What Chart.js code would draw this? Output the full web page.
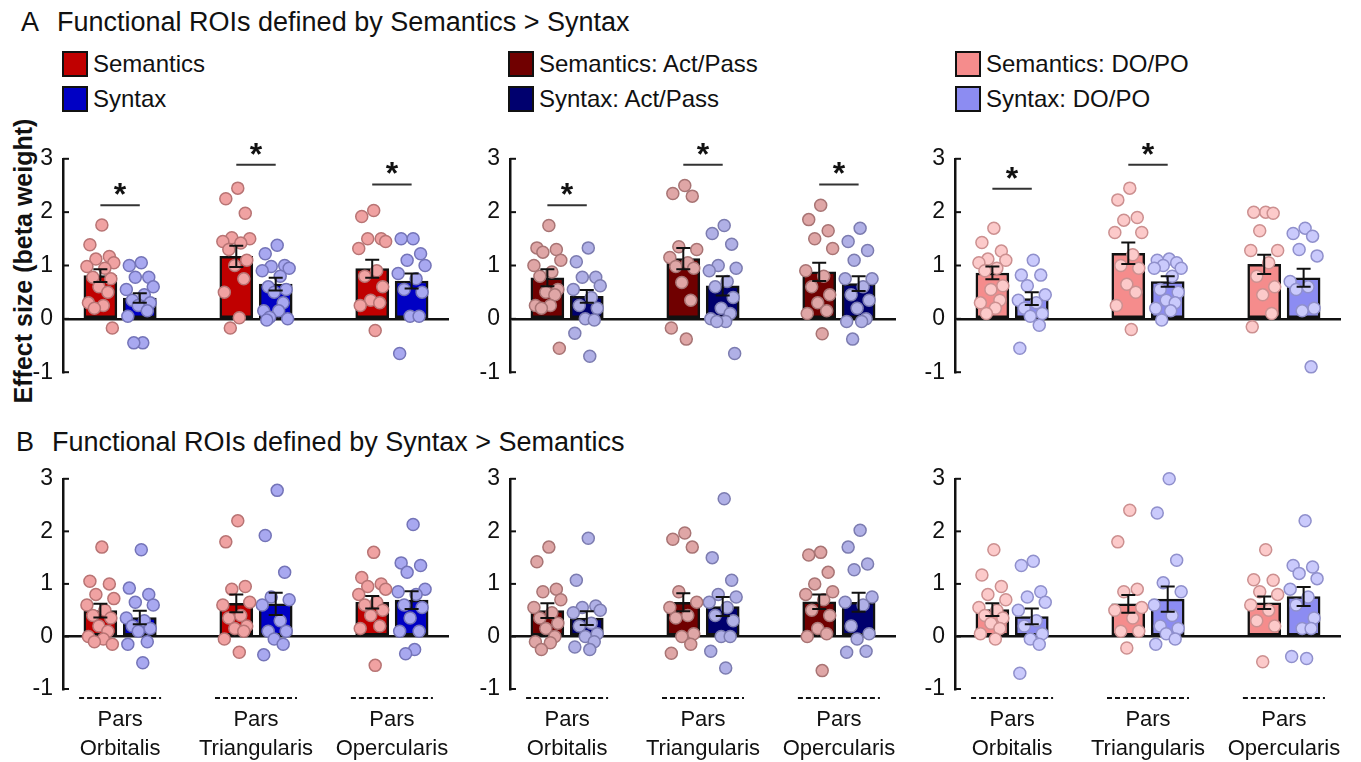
<!DOCTYPE html>
<html>
<head>
<meta charset="utf-8">
<script src="https://cdn.jsdelivr.net/npm/chart.js@4.4.1/dist/chart.umd.min.js"></script>
<style>
  body { margin: 0; background: #fff; font-family: "Liberation Sans", Arial, sans-serif; }
  #page { position: relative; width: 1361px; height: 762px; overflow: hidden; background: #fff; }
  .abs { position: absolute; white-space: nowrap; color: #111; }
  .title { font-size: 27px; line-height: 27px; }
  .legend { font-size: 24px; line-height: 26px; display: flex; align-items: center; }
  .swatch { width: 22px; height: 22px; border: 2px solid #111; margin-right: 5px; }
  .ylabel { font-size: 25px; font-weight: bold; width: 320px; height: 28px; line-height: 28px;
            text-align: center; transform: rotate(-90deg); }
  canvas { position: absolute; }
</style>
</head>
<body>
<div id="page">
  <div class="abs title" style="left:21px; top:9px;">A</div>
  <div class="abs title" style="left:57px; top:9px;">Functional ROIs defined by Semantics &gt; Syntax</div>
  <div class="abs title" style="left:16px; top:429px;">B</div>
  <div class="abs title" style="left:52px; top:429px;">Functional ROIs defined by Syntax &gt; Semantics</div>

  <div class="abs legend" style="left:62px; top:51px;"><div class="swatch" style="background:#c00000"></div>Semantics</div>
  <div class="abs legend" style="left:62px; top:86px;"><div class="swatch" style="background:#0000c4"></div>Syntax</div>
  <div class="abs legend" style="left:508px; top:51px;"><div class="swatch" style="background:#700000"></div>Semantics: Act/Pass</div>
  <div class="abs legend" style="left:508px; top:86px;"><div class="swatch" style="background:#00006e"></div>Syntax: Act/Pass</div>
  <div class="abs legend" style="left:955px; top:51px;"><div class="swatch" style="background:#f58c8c"></div>Semantics: DO/PO</div>
  <div class="abs legend" style="left:955px; top:86px;"><div class="swatch" style="background:#8c8cf2"></div>Syntax: DO/PO</div>

  <div class="abs ylabel" style="left:-137px; top:247px;">Effect size (beta weight)</div>

  <canvas id="a1" width="443" height="261" style="left:18px; top:135px;"></canvas>
  <canvas id="a2" width="443" height="261" style="left:465px; top:135px;"></canvas>
  <canvas id="a3" width="443" height="261" style="left:910px; top:135px;"></canvas>
  <canvas id="b1" width="443" height="307" style="left:18px; top:455px;"></canvas>
  <canvas id="b2" width="443" height="307" style="left:465px; top:455px;"></canvas>
  <canvas id="b3" width="443" height="307" style="left:910px; top:455px;"></canvas>
</div>

<script>
// ---- data ----
var CATEGORIES = [['Pars', 'Orbitalis'], ['Pars', 'Triangularis'], ['Pars', 'Opercularis']];
var Y_TICKS = [-1, 0, 1, 2, 3];

// A: ROIs defined by Semantics > Syntax
var A1_SEM_MEAN = [0.81, 1.17, 0.94];
var A1_SEM_ERR = [0.12, 0.20, 0.17];
var A1_SYN_MEAN = [0.39, 0.65, 0.71];
var A1_SYN_ERR = [0.09, 0.12, 0.14];
var A1_SEM_PTS = [
    [1.76, 1.39, 1.17, 1.12, 1.05, 0.98, 0.95, 0.78, 0.75, 0.6, 0.5, 0.3, 0.25, 0.2, -0.17],
    [2.45, 2.25, 1.98, 1.52, 1.5, 1.45, 1.42, 1.3, 1.1, 1.0, 0.75, 0.5, 0.02, -0.17],
    [2.03, 1.92, 1.5, 1.5, 1.45, 1.32, 0.9, 0.8, 0.6, 0.35, 0.3, 0.25, -0.22]
];
var A1_SYN_PTS = [
    [1.05, 1.0, 0.78, 0.78, 0.6, 0.55, 0.45, 0.35, 0.3, 0.25, 0.15, 0.05, -0.45, -0.45],
    [1.38, 1.22, 1.0, 0.98, 0.95, 0.9, 0.8, 0.6, 0.55, 0.5, 0.3, 0.15, 0.15, 0.03, 0.0, -0.02],
    [1.5, 1.5, 1.22, 1.1, 1.0, 0.85, 0.75, 0.55, 0.5, 0.05, 0.05, -0.65]
];
var A1_SIG = [2.13, 2.89, 2.52];

var A2_SEM_MEAN = [0.77, 1.13, 0.88];
var A2_SEM_ERR = [0.16, 0.20, 0.17];
var A2_SYN_MEAN = [0.42, 0.62, 0.66];
var A2_SYN_ERR = [0.12, 0.18, 0.14];
var A2_SEM_PTS = [
    [1.75, 1.33, 1.3, 1.25, 1.1, 1.0, 0.88, 0.8, 0.55, 0.5, 0.45, 0.25, 0.25, 0.2, -0.55],
    [2.5, 2.35, 2.3, 1.35, 1.3, 1.15, 1.05, 0.98, 0.95, 0.68, 0.35, -0.17, -0.38],
    [2.13, 1.86, 1.65, 1.5, 1.32, 0.9, 0.8, 0.6, 0.45, 0.3, 0.15, 0.1, -0.28]
];
var A2_SYN_PTS = [
    [1.33, 1.07, 0.78, 0.78, 0.62, 0.55, 0.4, 0.25, 0.2, 0.0, -0.02, -0.27, -0.7],
    [1.75, 1.6, 1.4, 1.0, 0.95, 0.9, 0.7, 0.6, 0.4, 0.2, 0.1, 0.0, -0.05, -0.05, -0.65],
    [1.7, 1.45, 1.28, 1.1, 0.75, 0.75, 0.6, 0.45, 0.35, 0.2, 0.0, -0.05, -0.05, -0.38]
];
var A2_SIG = [2.13, 2.89, 2.52];

var A3_SEM_MEAN = [0.86, 1.23, 1.02];
var A3_SEM_ERR = [0.12, 0.20, 0.18];
var A3_SYN_MEAN = [0.38, 0.70, 0.77];
var A3_SYN_ERR = [0.12, 0.10, 0.17];
var A3_SEM_PTS = [
    [1.7, 1.43, 1.27, 1.12, 1.1, 1.05, 0.95, 0.9, 0.62, 0.55, 0.35, 0.3, 0.2, 0.1],
    [2.45, 2.23, 1.9, 1.85, 1.62, 1.62, 1.2, 1.0, 0.95, 0.65, 0.5, 0.25, -0.2],
    [2.0, 2.0, 1.98, 1.65, 1.28, 1.28, 1.05, 0.8, 0.6, 0.45, 0.1, -0.15]
];
var A3_SYN_PTS = [
    [1.1, 0.82, 0.82, 0.62, 0.45, 0.35, 0.3, 0.2, 0.1, 0.05, -0.12, -0.55],
    [1.12, 1.1, 1.05, 1.0, 0.95, 0.95, 0.8, 0.55, 0.5, 0.35, 0.3, 0.2, 0.15, -0.02],
    [1.7, 1.6, 1.55, 1.3, 1.18, 0.7, 0.6, 0.55, 0.2, 0.15, -0.9]
];
var A3_SIG = [2.44, 2.89, null];

// B: ROIs defined by Syntax > Semantics
var B1_SEM_MEAN = [0.49, 0.63, 0.65];
var B1_SEM_ERR = [0.13, 0.17, 0.12];
var B1_SYN_MEAN = [0.36, 0.62, 0.69];
var B1_SYN_ERR = [0.13, 0.21, 0.17];
var B1_SEM_PTS = [
    [1.7, 1.05, 1.0, 0.8, 0.72, 0.6, 0.5, 0.4, 0.35, 0.2, 0.1, 0.0, -0.05, -0.1, -0.15],
    [2.2, 1.8, 0.95, 0.9, 0.65, 0.6, 0.4, 0.35, 0.2, 0.15, 0.1, -0.05, -0.3],
    [1.6, 1.12, 1.0, 0.95, 0.9, 0.8, 0.65, 0.6, 0.5, 0.4, 0.2, 0.15, -0.55]
];
var B1_SYN_PTS = [
    [1.65, 0.92, 0.8, 0.65, 0.6, 0.35, 0.3, 0.2, 0.15, 0.1, -0.1, -0.15, -0.5],
    [2.78, 1.92, 1.22, 0.75, 0.7, 0.6, 0.3, 0.1, 0.1, -0.05, -0.15, -0.35],
    [2.13, 1.4, 1.35, 1.22, 0.9, 0.85, 0.8, 0.6, 0.55, 0.35, 0.1, 0.1, -0.25, -0.33]
];

var B2_SEM_MEAN = [0.49, 0.65, 0.66];
var B2_SEM_ERR = [0.14, 0.17, 0.14];
var B2_SYN_MEAN = [0.35, 0.57, 0.65];
var B2_SYN_ERR = [0.13, 0.18, 0.18];
var B2_SEM_PTS = [
    [1.7, 1.42, 0.9, 0.85, 0.7, 0.55, 0.45, 0.35, 0.25, 0.15, 0.0, -0.1, -0.12, -0.25],
    [1.97, 1.85, 1.7, 0.85, 0.65, 0.55, 0.4, 0.35, 0.05, 0.0, -0.15, -0.32],
    [1.6, 1.55, 1.22, 1.0, 0.85, 0.8, 0.7, 0.5, 0.4, 0.15, 0.05, 0.0, -0.65]
];
var B2_SYN_PTS = [
    [1.87, 1.07, 0.58, 0.55, 0.5, 0.45, 0.25, 0.2, 0.05, 0.0, -0.1, -0.2, -0.25],
    [2.62, 1.5, 1.07, 0.8, 0.75, 0.65, 0.55, 0.4, 0.3, 0.0, 0.0, -0.28, -0.6],
    [2.02, 1.7, 1.38, 1.27, 0.75, 0.65, 0.6, 0.2, 0.05, -0.05, -0.28, -0.3]
];

var B3_SEM_MEAN = [0.51, 0.62, 0.64];
var B3_SEM_ERR = [0.12, 0.17, 0.12];
var B3_SYN_MEAN = [0.38, 0.71, 0.76];
var B3_SYN_ERR = [0.15, 0.24, 0.18];
var B3_SEM_PTS = [
    [1.65, 1.17, 0.95, 0.8, 0.7, 0.55, 0.5, 0.4, 0.35, 0.25, 0.15, 0.05, -0.05],
    [2.4, 1.8, 0.9, 0.85, 0.55, 0.5, 0.35, 0.1, 0.1, -0.22],
    [1.65, 1.08, 1.07, 0.85, 0.8, 0.6, 0.5, 0.3, 0.2, -0.48]
];
var B3_SYN_PTS = [
    [1.43, 1.35, 0.85, 0.75, 0.65, 0.5, 0.3, 0.2, 0.05, -0.05, -0.15, -0.7],
    [3.0, 2.35, 1.45, 1.02, 0.85, 0.6, 0.4, 0.2, 0.15, 0.05, -0.05, -0.15],
    [2.2, 1.35, 1.32, 1.2, 1.1, 0.9, 0.75, 0.6, 0.35, 0.15, 0.15, -0.38, -0.42]
];

// ---- layout / style ----
var FONT = "'Liberation Sans', Arial, sans-serif";
var X_MIN = -0.42, X_MAX = 2.42;
var BAR_OFFSET = 0.145;
var JITTER = [0.1, -0.7, 0.6, -0.3, 0.9, -0.9, 0.3, -0.5, 0.7, -0.1, 0.5, -0.8, 0.2, -0.4, 0.8, -0.6, 0.0];
var JITTER_SPREAD = 0.11;

var STYLE_MAIN = {sem: '#c00000', syn: '#0000c4', semPt: '#f0a2a2', semPtEdge: '#b87474', synPt: '#a8a8f0', synPtEdge: '#7474b8'};
var STYLE_ACT = {sem: '#700000', syn: '#00006e', semPt: '#dfa6a6', semPtEdge: '#a87474', synPt: '#b0b0e6', synPtEdge: '#7c7cb0'};
var STYLE_DO = {sem: '#f58c8c', syn: '#8c8cf2', semPt: '#fccaca', semPtEdge: '#cc9090', synPt: '#cacafc', synPtEdge: '#9090cc'};

Chart.defaults.font.family = FONT;
Chart.defaults.color = '#111';

var panelDecor = {
    id: 'panelDecor',
    beforeDatasetsDraw: function(chart) {
        // inward tick marks on the y axis
        var ctx = chart.ctx, area = chart.chartArea, y = chart.scales.y;
        ctx.save();
        ctx.strokeStyle = '#111';
        ctx.lineWidth = 2;
        Y_TICKS.forEach(function(t) {
            var py = y.getPixelForValue(t);
            ctx.beginPath();
            ctx.moveTo(area.left, py);
            ctx.lineTo(area.left + 6, py);
            ctx.stroke();
        });
        ctx.restore();
    },
    afterDatasetsDraw: function(chart, args, opts) {
        var ctx = chart.ctx, area = chart.chartArea, x = chart.scales.x, y = chart.scales.y;
        ctx.save();
        // error bars
        ctx.strokeStyle = '#111';
        ctx.lineWidth = 2;
        chart.data.datasets.forEach(function(ds, di) {
            if (!ds.errors) {
                return;
            }
            chart.getDatasetMeta(di).data.forEach(function(bar, i) {
                var m = ds.data[i].y, e = ds.errors[i];
                var top = y.getPixelForValue(m + e), bot = y.getPixelForValue(m - e);
                ctx.beginPath();
                ctx.moveTo(bar.x, top); ctx.lineTo(bar.x, bot);
                ctx.moveTo(bar.x - 7, top); ctx.lineTo(bar.x + 7, top);
                ctx.moveTo(bar.x - 7, bot); ctx.lineTo(bar.x + 7, bot);
                ctx.stroke();
            });
        });
        // significance brackets
        (opts.sig || []).forEach(function(h, i) {
            if (h === null) {
                return;
            }
            var py = y.getPixelForValue(h);
            var x0 = x.getPixelForValue(i - BAR_OFFSET), x1 = x.getPixelForValue(i + BAR_OFFSET);
            ctx.strokeStyle = '#333';
            ctx.lineWidth = 2;
            ctx.beginPath();
            ctx.moveTo(x0, py); ctx.lineTo(x1, py);
            ctx.stroke();
            ctx.fillStyle = '#111';
            ctx.font = 'bold 32px ' + FONT;
            ctx.textAlign = 'center';
            ctx.textBaseline = 'alphabetic';
            ctx.fillText('*', (x0 + x1) / 2, py);
        });
        // dashed lines above the region names
        if (opts.dashes) {
            ctx.strokeStyle = '#111';
            ctx.lineWidth = 2;
            ctx.setLineDash([5, 3]);
            CATEGORIES.forEach(function(c, i) {
                var cx = x.getPixelForValue(i);
                ctx.beginPath();
                ctx.moveTo(cx - 41, area.bottom + 9);
                ctx.lineTo(cx + 41, area.bottom + 9);
                ctx.stroke();
            });
        }
        ctx.restore();
    }
};

var barData = function(means, offset) {
    return means.map(function(v, i) {
        return {x: i + offset, y: v};
    });
};

var pointData = function(groups, offset) {
    var out = [];
    groups.forEach(function(vals, i) {
        vals.forEach(function(v, k) {
            out.push({x: i + offset + JITTER[k % JITTER.length] * JITTER_SPREAD, y: v});
        });
    });
    return out;
};

var makePanel = function(id, p) {
    var bottomRow = !!p.labels;
    var barCommon = {type: 'bar', grouped: false, barThickness: 33, borderColor: '#111',
        borderWidth: 2.5, borderSkipped: false, order: 2};
    var ptCommon = {type: 'scatter', pointRadius: 6, borderWidth: 1.5, order: 1, clip: false};
    new Chart(document.getElementById(id), {
        type: 'bar',
        data: {
            datasets: [
                Object.assign({data: barData(p.semMean, -BAR_OFFSET), errors: p.semErr,
                    backgroundColor: p.style.sem}, barCommon),
                Object.assign({data: barData(p.synMean, BAR_OFFSET), errors: p.synErr,
                    backgroundColor: p.style.syn}, barCommon),
                Object.assign({data: pointData(p.semPts, -BAR_OFFSET),
                    backgroundColor: p.style.semPt, borderColor: p.style.semPtEdge}, ptCommon),
                Object.assign({data: pointData(p.synPts, BAR_OFFSET),
                    backgroundColor: p.style.synPt, borderColor: p.style.synPtEdge}, ptCommon)
            ]
        },
        options: {
            responsive: false,
            animation: false,
            events: [],
            layout: {padding: {top: 20, left: 0, right: 12, bottom: bottomRow ? 0 : 15}},
            plugins: {
                legend: {display: false},
                tooltip: {enabled: false},
                panelDecor: {sig: p.sig, dashes: bottomRow}
            },
            scales: {
                x: {
                    type: 'linear',
                    min: X_MIN,
                    max: X_MAX,
                    offset: false,
                    display: bottomRow,
                    afterFit: function(axis) {
                        axis.height = bottomRow ? 73 : 0;
                    },
                    afterBuildTicks: function(axis) {
                        axis.ticks = CATEGORIES.map(function(c, i) {
                            return {value: i};
                        });
                    },
                    ticks: {
                        callback: function(value) {
                            return CATEGORIES[value];
                        },
                        autoSkip: false,
                        maxRotation: 0,
                        minRotation: 0,
                        padding: 9,
                        color: '#111',
                        font: {size: 22, lineHeight: 1.3}
                    },
                    grid: {display: false},
                    border: {display: false}
                },
                y: {
                    min: -1,
                    max: 3,
                    afterFit: function(axis) {
                        axis.width = 45;
                    },
                    afterBuildTicks: function(axis) {
                        axis.ticks = Y_TICKS.map(function(v) {
                            return {value: v};
                        });
                    },
                    ticks: {color: '#111', padding: 10, font: {size: 23}},
                    grid: {
                        drawTicks: false,
                        lineWidth: 2.5,
                        color: function(c) {
                            return c.tick && c.tick.value === 0 ? '#111' : 'rgba(0,0,0,0)';
                        }
                    },
                    border: {display: true, color: '#111', width: 2.5}
                }
            }
        },
        plugins: [panelDecor]
    });
};

makePanel('a1', {semMean: A1_SEM_MEAN, semErr: A1_SEM_ERR, synMean: A1_SYN_MEAN, synErr: A1_SYN_ERR,
    semPts: A1_SEM_PTS, synPts: A1_SYN_PTS, sig: A1_SIG, style: STYLE_MAIN});
makePanel('a2', {semMean: A2_SEM_MEAN, semErr: A2_SEM_ERR, synMean: A2_SYN_MEAN, synErr: A2_SYN_ERR,
    semPts: A2_SEM_PTS, synPts: A2_SYN_PTS, sig: A2_SIG, style: STYLE_ACT});
makePanel('a3', {semMean: A3_SEM_MEAN, semErr: A3_SEM_ERR, synMean: A3_SYN_MEAN, synErr: A3_SYN_ERR,
    semPts: A3_SEM_PTS, synPts: A3_SYN_PTS, sig: A3_SIG, style: STYLE_DO});
makePanel('b1', {semMean: B1_SEM_MEAN, semErr: B1_SEM_ERR, synMean: B1_SYN_MEAN, synErr: B1_SYN_ERR,
    semPts: B1_SEM_PTS, synPts: B1_SYN_PTS, style: STYLE_MAIN, labels: true});
makePanel('b2', {semMean: B2_SEM_MEAN, semErr: B2_SEM_ERR, synMean: B2_SYN_MEAN, synErr: B2_SYN_ERR,
    semPts: B2_SEM_PTS, synPts: B2_SYN_PTS, style: STYLE_ACT, labels: true});
makePanel('b3', {semMean: B3_SEM_MEAN, semErr: B3_SEM_ERR, synMean: B3_SYN_MEAN, synErr: B3_SYN_ERR,
    semPts: B3_SEM_PTS, synPts: B3_SYN_PTS, style: STYLE_DO, labels: true});
</script>
</body>
</html>
